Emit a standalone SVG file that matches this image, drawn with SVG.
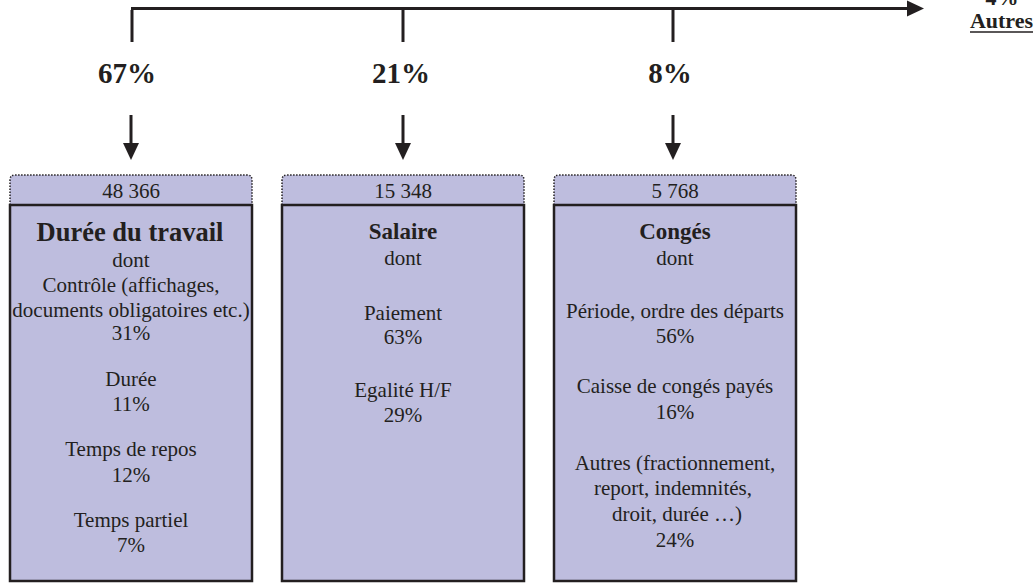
<svg xmlns="http://www.w3.org/2000/svg" width="1034" height="584" viewBox="0 0 1034 584">
<style>
text{font-family:"Liberation Serif","Times New Roman",serif;fill:#231f20;text-anchor:middle}
.b{font-size:21px}
.pct{font-size:29px;font-weight:bold}
.t1{font-size:26.5px;font-weight:bold}
.t2{font-size:23px;font-weight:bold}
.oth{font-size:22px;font-weight:bold}
.hdr{fill:#bebdde;stroke:#231f20;stroke-width:1.5;stroke-dasharray:1.5 1.5}
.box{fill:#bebdde;stroke:#231f20;stroke-width:2.5}
.ln{stroke:#231f20;stroke-width:3;fill:none}
.ah{fill:#231f20}
</style>
<rect width="1034" height="584" fill="#ffffff"/>
<g id="connectors">
<line class="ln" x1="131" y1="8.5" x2="910" y2="8.5"/>
<polygon class="ah" points="907,0.5 924,8.5 907,16.5"/>
<line class="ln" x1="132" y1="10" x2="132" y2="42"/>
<line class="ln" x1="403" y1="10" x2="403" y2="42"/>
<line class="ln" x1="673" y1="10" x2="673" y2="42"/>
<line class="ln" x1="131" y1="115" x2="131" y2="146"/>
<polygon class="ah" points="123,143 139,143 131,160"/>
<line class="ln" x1="403" y1="115" x2="403" y2="146"/>
<polygon class="ah" points="395,143 411,143 403,160"/>
<line class="ln" x1="673" y1="115" x2="673" y2="146"/>
<polygon class="ah" points="665,143 681,143 673,160"/>
</g>
<g id="labels">
<text class="pct" x="127" y="83">67%</text>
<text class="pct" x="401" y="83">21%</text>
<text class="pct" x="670" y="83">8%</text>
<text class="oth" x="1002" y="5">4%</text>
<text class="oth" x="1001.5" y="28">Autres</text>
<line x1="970" y1="32" x2="1033" y2="32" stroke="#231f20" stroke-width="1.5"/>
</g>
<g id="node-duree">
<path class="hdr" d="M10,205 V180 Q10,175 15,175 H247 Q252,175 252,180 V205"/>
<rect class="box" x="10" y="205" width="242" height="376"/>
<text class="b" x="131" y="198">48 366</text>
<text class="t1" x="130" y="241">Durée du travail</text>
<text class="b" x="131" y="267">dont</text>
<text class="b" x="131" y="292">Contrôle (affichages,</text>
<text class="b" x="131" y="317">documents obligatoires etc.)</text>
<text class="b" x="131" y="340">31%</text>
<text class="b" x="131" y="386">Durée</text>
<text class="b" x="131" y="411">11%</text>
<text class="b" x="131" y="456">Temps de repos</text>
<text class="b" x="131" y="482">12%</text>
<text class="b" x="131" y="527">Temps partiel</text>
<text class="b" x="131" y="552">7%</text>
</g>
<g id="node-salaire">
<path class="hdr" d="M282,205 V180 Q282,175 287,175 H519 Q524,175 524,180 V205"/>
<rect class="box" x="282" y="205" width="242" height="376"/>
<text class="b" x="403" y="198">15 348</text>
<text class="t2" x="403" y="239">Salaire</text>
<text class="b" x="403" y="265">dont</text>
<text class="b" x="403" y="320">Paiement</text>
<text class="b" x="403" y="344">63%</text>
<text class="b" x="403" y="397">Egalité H/F</text>
<text class="b" x="403" y="422">29%</text>
</g>
<g id="node-conges">
<path class="hdr" d="M554,205 V180 Q554,175 559,175 H791 Q796,175 796,180 V205"/>
<rect class="box" x="554" y="205" width="242" height="376"/>
<text class="b" x="675" y="198">5 768</text>
<text class="t2" x="675" y="239">Congés</text>
<text class="b" x="675" y="265">dont</text>
<text class="b" x="675" y="318">Période, ordre des départs</text>
<text class="b" x="675" y="343">56%</text>
<text class="b" x="675" y="393">Caisse de congés payés</text>
<text class="b" x="675" y="419">16%</text>
<text class="b" x="675" y="470">Autres (fractionnement,</text>
<text class="b" x="673" y="495">report, indemnités,</text>
<text class="b" x="677" y="521">droit, durée …)</text>
<text class="b" x="675" y="547">24%</text>
</g>
</svg>
